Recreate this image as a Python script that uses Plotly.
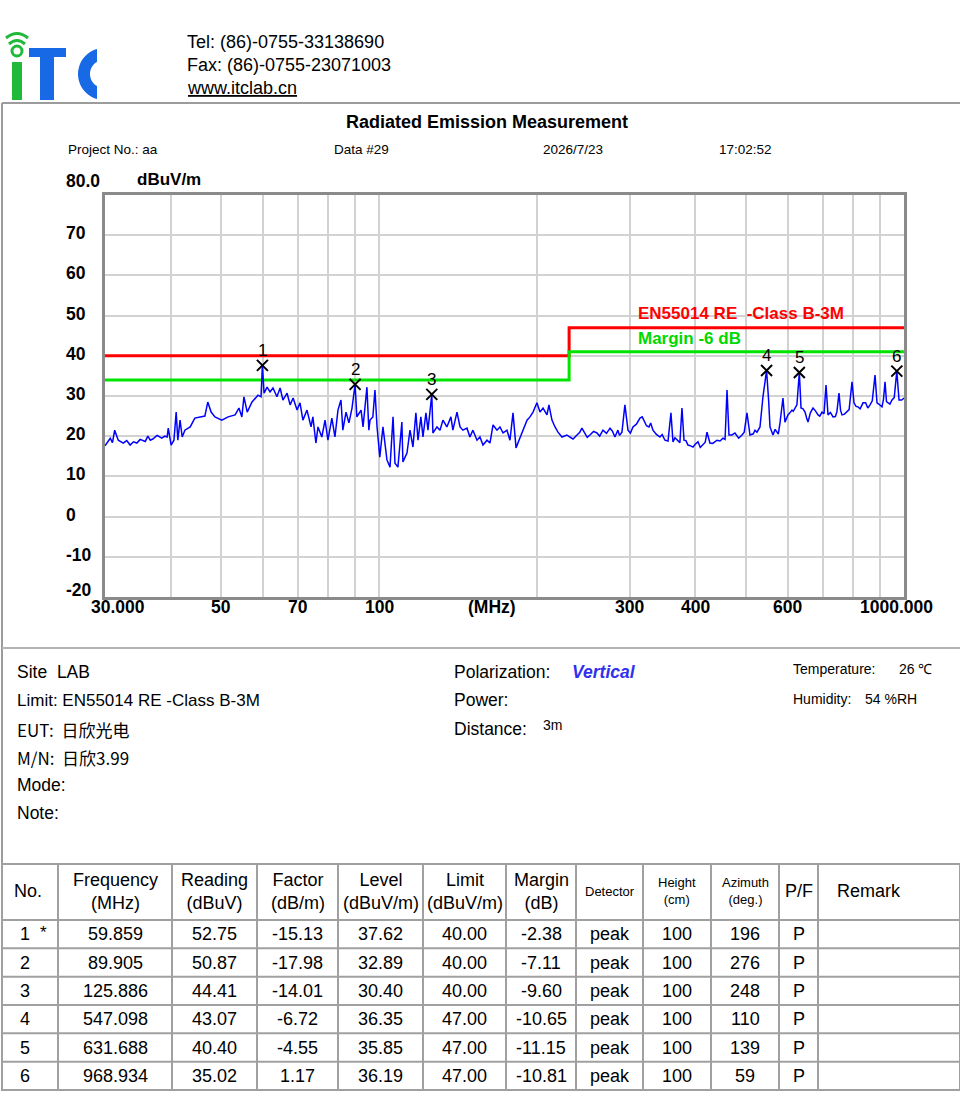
import math
import plotly.graph_objects as go

W, H = 960, 1100

# ---------------- data ----------------
freq_mhz = [
    30.0, 30.4, 30.7, 31.0, 31.3, 31.8, 32.2, 32.5, 33.0, 33.5, 34.0, 34.5, 35.0, 35.4, 35.8,
    36.2, 36.6, 37.0, 37.7, 38.5, 39.0, 39.4, 39.6, 40.1, 40.6,
    41.0, 41.3, 41.7, 42.1, 42.6, 43.6, 44.5, 45.5, 46.5, 47.1, 47.8, 48.6, 50.1, 51.5, 53.1,
    54.0, 54.7, 55.2, 56.0, 57.2, 58.0, 58.7, 59.5, 59.859, 60.3, 61.1, 61.9, 62.7, 63.8, 64.7,
    65.5, 66.7, 67.6, 68.5, 69.7, 70.6, 71.5, 72.8, 74.1, 74.7, 75.7, 76.4, 77.7, 78.8, 79.8,
    81.2, 82.3, 83.4, 84.5, 85.2, 86.4, 87.5, 88.7, 89.905, 90.6, 92.3, 93.1, 94.7, 95.5, 96.0,
    97.2, 98.1, 99.0, 99.8, 100.2, 101.6, 103.4, 104.8, 106.2, 107.1, 108.5, 110.4, 110.9, 112.9,
    114.4, 115.9, 117.4, 118.5, 120.0, 121.1, 122.7, 123.8, 125.886, 126.5, 128.8, 130.5, 132.2,
    134.5, 136.9, 138.1, 140.6, 142.5, 144.3, 146.9, 148.8, 150.8, 153.5, 155.5, 157.6, 160.4,
    162.5, 164.7, 167.6, 169.8, 172.1, 175.1, 177.4, 179.8, 182.2, 184.6, 187.8, 191.2, 193.7,
    196.3, 199.7, 202.4, 205.1, 208.7, 210.5, 213.3, 216.2, 219.0, 222.9, 227.8, 230.8, 234.0,
    238.1, 241.0, 243.3, 246.6, 249.0, 252.0, 256.0, 259.9, 263.0, 266.8, 271.0, 275.2, 278.0,
    281.2, 284.9, 287.0, 290.0, 293.8, 297.8, 301.0, 304.4, 309.0, 313.9, 317.0, 320.9, 323.0,
    326.5, 329.0, 332.3, 337.0, 342.6, 346.0, 350.3, 355.0, 359.6, 362.8, 366.0, 370.9, 374.0,
    377.4, 380.8, 384.0, 387.5, 392.0, 396.1, 400.0, 404.9, 409.0, 413.9, 418.0, 421.2, 426.7,
    432.0, 440.1, 446.0, 451.9, 456.0, 459.9, 463.9, 470.0, 476.2, 484.0, 491.1, 496.0, 502.0,
    508.7, 516.0, 520.0, 524.5, 531.5, 538.5, 547.098, 552.0, 555.4, 562.7, 568.0, 572.7, 576.0,
    580.3, 587.9, 593.1, 597.0, 601.0, 606.0, 611.6, 615.0, 619.7, 625.0, 631.688, 636.4, 642.0,
    647.7, 652.0, 656.2, 663.0, 670.8, 678.0, 685.7, 691.0, 697.8, 704.0, 710.2, 716.4, 724.0,
    732.3, 740.0, 745.0, 751.8, 757.0, 761.8, 770.0, 778.7, 786.0, 796.0, 803.0, 810.0, 817.2,
    825.0, 835.4, 845.0, 853.0, 861.5, 870.0, 880.6, 888.3, 895.0, 908.0, 914.0, 920.1, 926.0,
    932.3, 940.0, 948.8, 958.0, 968.934, 978.4, 990.0, 1000.0,
]
level_dbuv_m = [
    17.6, 18.6, 19.5, 18.4, 21.5, 19.0, 18.6, 18.3, 18.9, 17.8, 18.6, 18.3, 19.2, 19.0, 18.7,
    20.0, 19.0, 19.3, 20.2, 19.5, 20.0, 19.8, 22.0, 17.8, 19.0,
    26.0, 19.0, 24.0, 19.8, 21.5, 22.3, 24.5, 24.8, 25.0, 28.5, 26.0, 24.8, 24.0, 24.8, 25.3,
    27.0, 24.8, 29.8, 26.0, 28.5, 29.5, 30.2, 29.8, 37.62, 30.7, 32.2, 31.0, 32.0, 29.8, 32.0,
    29.0, 30.7, 27.8, 29.5, 26.5, 28.3, 24.0, 26.5, 22.3, 24.8, 18.3, 22.3, 19.8, 24.0, 19.0,
    24.5, 19.8, 26.5, 29.0, 21.5, 26.0, 23.3, 27.0, 32.89, 24.8, 26.5, 22.3, 32.2, 21.5, 24.0,
    24.8, 31.5, 22.3, 15.8, 14.8, 22.3, 14.1, 12.3, 24.8, 13.3, 12.3, 23.5, 13.6, 15.8,
    21.5, 17.3, 25.8, 19.0, 24.8, 19.8, 25.8, 21.5, 30.40, 20.8, 22.3, 21.5, 24.0,
    22.3, 24.8, 21.5, 26.0, 22.3, 21.5, 22.0, 19.8, 21.5, 19.0, 19.8, 17.8, 19.0,
    18.3, 22.8, 21.5, 22.3, 20.8, 21.5, 19.0, 25.8, 17.1, 19.0, 21.5, 24.0, 24.8,
    26.0, 28.3, 26.0, 27.0, 25.3, 27.8, 24.0, 22.3, 21.0, 19.8, 20.3, 19.8, 19.3,
    20.3, 21.0, 22.0, 20.8, 19.7, 20.3, 21.2, 20.8, 20.0, 21.5, 20.7, 22.0, 21.3,
    19.8, 21.5, 20.2, 21.0, 27.8, 21.5, 20.8, 22.3, 23.0, 24.5, 24.8, 23.5, 22.6,
    22.3, 23.3, 21.5, 20.5, 19.8, 20.4, 19.0, 18.8, 25.8, 18.6, 19.6, 19.0, 18.4,
    27.0, 19.0, 18.9, 17.8, 17.6, 17.3, 18.0, 18.6, 17.2, 17.8, 18.5, 21.0, 18.3,
    18.2, 19.0, 18.8, 19.5, 19.2, 31.5, 20.3, 20.3, 20.8, 19.5, 20.3, 21.0, 25.8,
    20.3, 20.6, 21.5, 21.0, 22.3, 29.8, 36.35, 29.0, 22.3, 20.3, 21.7, 21.0, 20.5,
    23.3, 29.5, 23.5, 24.6, 25.3, 25.8, 26.5, 26.2, 27.0, 27.8, 35.85, 27.0, 26.8,
    26.0, 24.6, 23.5, 25.8, 27.0, 26.3, 25.3, 25.0, 26.0, 25.6, 32.7, 25.3, 25.9,
    24.8, 24.9, 26.1, 30.7, 26.4, 25.3, 25.5, 26.0, 26.6, 33.5, 28.3, 27.4, 27.3,
    26.8, 28.3, 28.3, 27.0, 27.8, 28.8, 35.2, 28.3, 28.0, 27.3, 29.2, 33.5, 28.6,
    28.3, 28.0, 29.0, 29.6, 36.19, 29.0, 29.0, 29.5,
]

limit_freq = [30, 230, 230, 1000]
limit_level = [40, 40, 47, 47]
margin_level = [34, 34, 41, 41]

peak_no = ["1", "2", "3", "4", "5", "6"]
peak_flag = ["*", "", "", "", "", ""]
peak_freq = [59.859, 89.905, 125.886, 547.098, 631.688, 968.934]
peak_reading = [52.75, 50.87, 44.41, 43.07, 40.40, 35.02]
peak_factor = [-15.13, -17.98, -14.01, -6.72, -4.55, 1.17]
peak_level = [37.62, 32.89, 30.40, 36.35, 35.85, 36.19]
peak_limit = [40.00, 40.00, 40.00, 47.00, 47.00, 47.00]
peak_margin = [-2.38, -7.11, -9.60, -10.65, -11.15, -10.81]
peak_detector = ["peak", "peak", "peak", "peak", "peak", "peak"]
peak_height = [100, 100, 100, 100, 100, 100]
peak_azimuth = [196, 276, 248, 110, 139, 59]
peak_pf = ["P", "P", "P", "P", "P", "P"]

y_tick_vals = [80, 70, 60, 50, 40, 30, 20, 10, 0, -10, -20]
y_tick_text = ["80.0", "70", "60", "50", "40", "30", "20", "10", "0", "-10", "-20"]
x_grid_vals = [40, 50, 60, 70, 80, 90, 100, 200, 300, 400, 500, 600, 700, 800, 900]
x_label_vals = [30, 50, 70, 100, 300, 400, 600, 1000]
x_label_text = ["30.000", "50", "70", "100", "300", "400", "600", "1000.000"]

table_headers = ["No.", "Frequency<br>(MHz)", "Reading<br>(dBuV)", "Factor<br>(dB/m)",
                 "Level<br>(dBuV/m)", "Limit<br>(dBuV/m)", "Margin<br>(dB)", "Detector",
                 "Height<br>(cm)", "Azimuth<br>(deg.)", "P/F", "Remark"]

# ---------------- helpers (layout only) ----------------
FONT = "Liberation Sans, Arial, sans-serif"
CJK = "Noto Sans CJK SC, Liberation Sans, sans-serif"


def px(x):
    return x / W


def py(y):
    return 1 - y / H


annotations = []
shapes = []


def text(x, y, s, size=16, color="#000", bold=False, anchor="left", family=FONT, italic=False):
    if bold:
        s = "<b>" + s + "</b>"
    if italic:
        s = "<i>" + s + "</i>"
    annotations.append(dict(x=px(x), y=py(y), xref="paper", yref="paper", text=s,
                            showarrow=False, xanchor=anchor, yanchor="middle",
                            font=dict(family=family, size=size, color=color)))


def hline(x0, x1, y, color="#a8a8a8", width=2):
    shapes.append(dict(type="line", xref="paper", yref="paper", x0=px(x0), x1=px(x1),
                       y0=py(y), y1=py(y), line=dict(color=color, width=width)))


def vline(x, y0, y1, color="#a8a8a8", width=2):
    shapes.append(dict(type="line", xref="paper", yref="paper", x0=px(x), x1=px(x),
                       y0=py(y0), y1=py(y1), line=dict(color=color, width=width)))


def rect(x0, y0, x1, y1, color):
    shapes.append(dict(type="rect", xref="paper", yref="paper", x0=px(x0), x1=px(x1),
                       y0=py(y0), y1=py(y1), fillcolor=color, line=dict(width=0)))


# ---------------- logo ----------------
GREEN_LOGO = "#20b93a"
BLUE_LOGO = "#1769e6"
rect(12, 62, 22, 100, GREEN_LOGO)
shapes.append(dict(type="circle", xref="paper", yref="paper", x0=px(12), x1=px(22),
                   y0=py(46), y1=py(56), line=dict(color=GREEN_LOGO, width=3)))
for (a, b, top, base) in [(9, 25, 37, 44), (6, 28, 29, 38)]:
    path = "M {},{} Q {},{} {},{}".format(px(a), py(base), px((a + b) / 2), py(top),
                                           px(b), py(base))
    shapes.append(dict(type="path", xref="paper", yref="paper", path=path,
                       line=dict(color=GREEN_LOGO, width=3)))
rect(29, 48, 66, 57, BLUE_LOGO)
rect(40, 57, 54, 100, BLUE_LOGO)
cx, cy, R, r = 104, 74, 26, 14
a_out0 = math.degrees(math.acos(-7 / R))
a_in0 = math.degrees(math.acos(-7 / r))
pts = []
n = 24
for i in range(n + 1):
    t = math.radians(a_out0 + (360 - 2 * a_out0) * i / n)
    pts.append((cx + R * math.cos(t), cy - R * math.sin(t)))
for i in range(n + 1):
    t = math.radians(360 - a_in0 - (360 - 2 * a_in0) * i / n)
    pts.append((cx + r * math.cos(t), cy - r * math.sin(t)))
cpath = "M " + " L ".join("{},{}".format(px(x), py(y)) for x, y in pts) + " Z"
shapes.append(dict(type="path", xref="paper", yref="paper", path=cpath,
                   fillcolor=BLUE_LOGO, line=dict(width=0)))

# ---------------- header ----------------
text(185, 42, "Tel: (86)-0755-33138690", size=18)
text(185, 65, "Fax: (86)-0755-23071003", size=18)
text(185, 88, "<u>www.itclab.cn</u>", size=18)

hline(2, 960, 103, color="#9c9c9c", width=2)
vline(2, 103, 1091, color="#9c9c9c", width=2)

text(487, 122, "Radiated Emission Measurement", size=18, bold=True, anchor="center")
text(66, 149, "Project No.: aa", size=13.5)
text(332, 149, "Data #29", size=13.5)
text(541, 149, "2026/7/23", size=13.5)
text(717, 149, "17:02:52", size=13.5)
text(135, 180, "dBuV/m", size=17, bold=True)

# ---------------- chart ----------------
fig = go.Figure()
fig.add_trace(go.Scatter(x=limit_freq, y=limit_level, mode="lines",
                         line=dict(color="#ff0000", width=3), hoverinfo="skip"))
fig.add_trace(go.Scatter(x=limit_freq, y=margin_level, mode="lines",
                         line=dict(color="#00e400", width=3), hoverinfo="skip"))
fig.add_trace(go.Scatter(x=freq_mhz, y=level_dbuv_m, mode="lines",
                         line=dict(color="#0000ff", width=1.5), hoverinfo="skip"))
fig.add_trace(go.Scatter(x=peak_freq, y=peak_level, mode="markers",
                         marker=dict(symbol="x-thin", size=11, color="#000",
                                     line=dict(color="#000", width=2)),
                         hoverinfo="skip"))

for n_, f_, l_ in zip(peak_no, peak_freq, peak_level):
    annotations.append(dict(x=math.log10(f_), y=l_, xref="x", yref="y", text=n_,
                            showarrow=False, yshift=15, xanchor="center", yanchor="middle",
                            font=dict(family=FONT, size=17, color="#000")))

for v, t in zip(y_tick_vals, y_tick_text):
    shift = 2
    if v == 80:
        shift = 14
    elif v == -20:
        shift = 7
    annotations.append(dict(x=px(64), y=v, xref="paper", yref="y", text="<b>" + t + "</b>",
                            showarrow=False, xanchor="left", yanchor="middle", yshift=shift,
                            font=dict(family=FONT, size=17.5, color="#000")))

for v, t in zip(x_label_vals, x_label_text):
    anc, xs = "center", 0
    if v == 30:
        anc, xs = "left", -16
    elif v == 1000:
        anc, xs = "center", -8
    annotations.append(dict(x=math.log10(v), y=py(607), xref="x", yref="paper",
                            text="<b>" + t + "</b>", showarrow=False, xanchor=anc, xshift=xs,
                            yanchor="middle", font=dict(family=FONT, size=17.5, color="#000")))
text(492, 607, "(MHz)", size=17.5, bold=True, anchor="center")

text(636, 314, "EN55014 RE  -Class B-3M", size=17, bold=True, color="#ff0000")
text(636, 339, "Margin -6 dB", size=17, bold=True, color="#00d800")

# ---------------- info ----------------
hline(2, 960, 648, color="#b4b4b4", width=2)
text(15, 672, "Site  LAB", size=17.5)
text(15, 700, "Limit: EN55014 RE -Class B-3M", size=17)
text(15, 729, "EUT:  日欣光电", size=17, family=CJK)
text(15, 757, "M/N:  日欣3.99", size=17, family=CJK)
text(15, 785, "Mode:", size=17.5)
text(15, 813, "Note:", size=17.5)
text(452, 672, "Polarization:", size=17.5)
text(570, 672, "Vertical", size=17.5, bold=True, italic=True, color="#3030f0")
text(452, 700, "Power:", size=17.5)
text(452, 729, "Distance:", size=17.5)
text(541, 725, "3m", size=14)
text(791, 669, "Temperature:", size=14)
text(897, 669, "26 ℃", size=14)
text(791, 699, "Humidity:", size=14)
text(863, 699, "54 %RH", size=14)

# ---------------- table ----------------
col_edges = [2, 58, 172, 257, 338, 423, 506, 576, 643, 711, 779, 818, 960]
row_edges = [864, 920, 948.3, 976.7, 1005, 1033.3, 1061.7, 1090]
for y in row_edges:
    hline(2, 960, y, color="#a0a0a0", width=2)
for x in col_edges:
    vline(x, 864, 1090, color="#a0a0a0", width=2)

hdr_sizes = [18, 18, 18, 18, 18, 18, 18, 13, 13, 13, 18, 18]
for i, h in enumerate(table_headers):
    cxp = (col_edges[i] + col_edges[i + 1]) / 2
    if h == "Remark":
        cxp = 869
    if h == "No.":
        cxp = 28
    text(cxp, 891, h, size=hdr_sizes[i], anchor="center")

rows = []
for i in range(len(peak_no)):
    rows.append([
        peak_no[i],
        "{:.3f}".format(peak_freq[i]),
        "{:.2f}".format(peak_reading[i]),
        "{:.2f}".format(peak_factor[i]),
        "{:.2f}".format(peak_level[i]),
        "{:.2f}".format(peak_limit[i]),
        "{:.2f}".format(peak_margin[i]),
        peak_detector[i],
        str(peak_height[i]),
        str(peak_azimuth[i]),
        peak_pf[i],
    ])
for r_i, row in enumerate(rows):
    yc = (row_edges[r_i + 1] + row_edges[r_i + 2]) / 2
    for c_i, val in enumerate(row):
        cxp = (col_edges[c_i] + col_edges[c_i + 1]) / 2
        if c_i == 0:
            cxp = 25
        text(cxp, yc, val, size=18, anchor="center")
    if peak_flag[r_i]:
        text(43, yc - 2, peak_flag[r_i], size=17, anchor="center")

fig.update_layout(
    width=W, height=H, autosize=False,
    margin=dict(l=0, r=0, t=0, b=0),
    paper_bgcolor="#ffffff", plot_bgcolor="#ffffff",
    showlegend=False,
    xaxis=dict(type="log", range=[math.log10(30), math.log10(1000)],
               domain=[px(105), px(904)], tickvals=x_grid_vals, showticklabels=False,
               ticks="", showgrid=True, gridcolor="#d2d2d2", gridwidth=1.5,
               showline=True, mirror=True, linecolor="#8a8a8a", linewidth=2.5,
               zeroline=False),
    yaxis=dict(range=[-20, 80], domain=[py(597), py(195)], tick0=0, dtick=10,
               showticklabels=False, ticks="", showgrid=True, gridcolor="#d2d2d2",
               gridwidth=1.5, showline=True, mirror=True, linecolor="#8a8a8a",
               linewidth=2.5, zeroline=False),
    annotations=annotations,
    shapes=shapes,
)

fig.write_html("out.html", config={"displayModeBar": False},
               post_script="document.body.style.margin='0';document.body.style.padding='0';")
